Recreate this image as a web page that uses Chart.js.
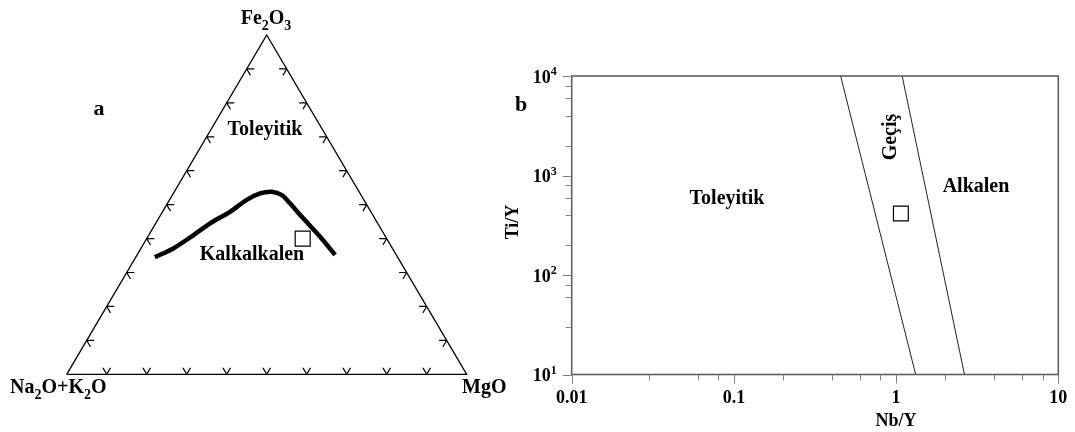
<!DOCTYPE html>
<html>
<head>
<meta charset="utf-8">
<title>AFM ve Nb/Y - Ti/Y</title>
<script src="https://cdn.jsdelivr.net/npm/chart.js@4.4.1/dist/chart.umd.min.js"></script>
<style>
    body { margin: 0; background: #fff; }
    #wrap { position: relative; width: 1075px; height: 432px; overflow: hidden; }
    #chart-a { position: absolute; left: 0; top: 0; }
    #chart-b { position: absolute; left: 495px; top: 0; }
</style>
</head>
<body>
<div id="wrap">
    <canvas id="chart-a" width="520" height="432"></canvas>
    <canvas id="chart-b" width="580" height="432"></canvas>
</div>
<script>
// ---- data: panel a (AFM, %) ----
var curveFe2O3 = [34.5, 37.1, 40.6, 44.5, 47.9, 51.4, 53.3, 53.8, 52.8, 50.4, 46.4, 40.6, 35.2];
var curveAlkali = [60.7, 54.8, 48.5, 41.9, 35.2, 29.3, 25.0, 21.8, 19.8, 19.0, 18.0, 16.4, 15.3];
var curveMgO = [4.8, 8.1, 10.9, 13.6, 16.9, 19.3, 21.7, 24.4, 27.4, 30.6, 35.6, 43.0, 49.5];
var sampleAFM = [40, 21, 39]; // Fe2O3, Na2O+K2O, MgO
var triangleFe2O3 = [0, 0, 100, 0];
var triangleAlkali = [100, 0, 0, 100];
var triangleMgO = [0, 100, 0, 0];
var ternaryTicks = [10, 20, 30, 40, 50, 60, 70, 80, 90];

// ---- data: panel b (Nb/Y vs Ti/Y) ----
var boundary1NbY = [0.455, 1.32];
var boundary1TiY = [10000, 10];
var boundary2NbY = [1.09, 2.64];
var boundary2TiY = [10000, 10];
var sampleNbY = [1.07];
var sampleTiY = [415];
var nbyTicks = [0.01, 0.1, 1, 10];
var nbyTickLabels = ['0.01', '0.1', '1', '10'];
var tiyTicks = [10, 100, 1000, 10000];
var tiyTickExp = ['1', '2', '3', '4'];

var SERIF = '"Liberation Serif", "Times New Roman", serif';

function ternToXY(fe, alk, mg) {
    var s = fe + alk + mg;
    return { x: (mg + fe / 2) / s, y: fe / s };
}

function ternSeries(feArr, alkArr, mgArr) {
    var pts = [];
    for (var i = 0; i < feArr.length; i++)
        pts.push(ternToXY(feArr[i], alkArr[i], mgArr[i]));
    return pts;
}

// draws text made of parts: [text, 'n'|'sub'|'sup']
function drawRich(ctx, parts, x, y, size, align) {
    var small = Math.round(size * 0.68);
    var total = 0;
    var i;
    for (i = 0; i < parts.length; i++) {
        ctx.font = 'bold ' + (parts[i][1] == 'n' ? size : small) + 'px ' + SERIF;
        total += ctx.measureText(parts[i][0]).width;
    }
    var cx = x;
    if (align == 'center') cx = x - total / 2;
    if (align == 'right') cx = x - total;
    ctx.textAlign = 'left';
    ctx.textBaseline = 'alphabetic';
    var base = y + size * 0.33;
    for (i = 0; i < parts.length; i++) {
        var kind = parts[i][1];
        ctx.font = 'bold ' + (kind == 'n' ? size : small) + 'px ' + SERIF;
        var dy = 0;
        if (kind == 'sub') dy = size * 0.3;
        if (kind == 'sup') dy = -size * 0.42;
        ctx.fillText(parts[i][0], cx, base + dy);
        cx += ctx.measureText(parts[i][0]).width;
    }
}

function drawText(ctx, text, x, y, size, rot) {
    ctx.save();
    ctx.translate(x, y);
    if (rot) ctx.rotate(rot);
    ctx.font = 'bold ' + size + 'px ' + SERIF;
    ctx.fillStyle = '#000';
    ctx.textAlign = 'center';
    ctx.textBaseline = 'middle';
    ctx.fillText(text, 0, 0);
    ctx.restore();
}

// ---- panel a ----
var afmDecor = {
    id: 'afmDecor',
    afterDatasetsDraw: function (chart) {
        var ctx = chart.ctx;
        var sx = chart.scales.x, sy = chart.scales.y;
        var d = 1.9;
        function px(fe, alk, mg) {
            var p = ternToXY(fe, alk, mg);
            return [sx.getPixelForValue(p.x), sy.getPixelForValue(p.y)];
        }
        function seg(a, b) {
            ctx.moveTo(a[0], a[1]);
            ctx.lineTo(b[0], b[1]);
        }
        ctx.save();
        ctx.strokeStyle = '#000';
        ctx.lineWidth = 1.2;
        ctx.beginPath();
        for (var i = 0; i < ternaryTicks.length; i++) {
            var t = ternaryTicks[i];
            // left edge (MgO = 0)
            seg(px(t, 100 - t, 0), px(t, 100 - t - d, d));
            seg(px(t, 100 - t, 0), px(t - d, 100 - t, d));
            // bottom edge (Fe2O3 = 0)
            seg(px(0, 100 - t, t), px(d, 100 - t - d, t));
            seg(px(0, 100 - t, t), px(d, 100 - t, t - d));
            // right edge (alkali = 0)
            seg(px(t, 0, 100 - t), px(t, d, 100 - t - d));
            seg(px(t, 0, 100 - t), px(t - d, d, 100 - t));
        }
        ctx.stroke();
        ctx.restore();

        ctx.save();
        ctx.fillStyle = '#000';
        drawRich(ctx, [['Fe', 'n'], ['2', 'sub'], ['O', 'n'], ['3', 'sub']], 266, 17, 20, 'center');
        drawRich(ctx, [['Na', 'n'], ['2', 'sub'], ['O+K', 'n'], ['2', 'sub'], ['O', 'n']], 10, 386, 20, 'left');
        drawRich(ctx, [['MgO', 'n']], 462, 386, 20, 'left');
        drawText(ctx, 'a', 99, 109, 22);
        drawText(ctx, 'Toleyitik', 265, 130, 20);
        drawText(ctx, 'Kalkalkalen', 252, 255, 20);
        ctx.restore();
    }
};

function BuildAFMChart() {
    var ctx = document.getElementById('chart-a');
    return new Chart(ctx, {
        type: 'scatter',
        data: {
            datasets: [{
                data: ternSeries(triangleFe2O3, triangleAlkali, triangleMgO),
                showLine: true,
                borderColor: '#000',
                borderWidth: 1.3,
                pointRadius: 0,
                clip: false
            }, {
                data: ternSeries(curveFe2O3, curveAlkali, curveMgO),
                showLine: true,
                borderColor: '#000',
                borderWidth: 4.5,
                tension: 0.3,
                pointRadius: 0,
                clip: false
            }, {
                data: [ternToXY(sampleAFM[0], sampleAFM[1], sampleAFM[2])],
                pointStyle: 'rect',
                pointRadius: 10.6,
                backgroundColor: '#fff',
                borderColor: '#000',
                borderWidth: 1.2,
                clip: false
            }]
        },
        options: {
            responsive: false,
            animation: false,
            layout: { padding: { left: 66.7, right: 53.3, top: 35, bottom: 57.7 } },
            scales: {
                x: { type: 'linear', min: 0, max: 1, display: false },
                y: { type: 'linear', min: 0, max: 1, display: false }
            },
            plugins: { legend: { display: false }, tooltip: { enabled: false } }
        },
        plugins: [afmDecor]
    });
}

// ---- panel b ----
var logDecor = {
    id: 'logDecor',
    afterDraw: function (chart) {
        var ctx = chart.ctx;
        var area = chart.chartArea;
        var sx = chart.scales.x, sy = chart.scales.y;
        ctx.save();
        ctx.strokeStyle = '#5e5e5e';
        ctx.lineWidth = 1.6;
        ctx.strokeRect(area.left, area.top, area.right - area.left, area.bottom - area.top);

        ctx.lineWidth = 1;
        ctx.strokeStyle = '#808080';
        ctx.beginPath();
        sx.ticks.forEach(function (tk) {
            var lg = Math.log10(tk.value);
            var major = Math.abs(lg - Math.round(lg)) < 1e-6;
            var x = Math.round(sx.getPixelForValue(tk.value)) + 0.5;
            ctx.moveTo(x, area.bottom);
            ctx.lineTo(x, area.bottom + (major ? 9 : 6));
        });
        sy.ticks.forEach(function (tk) {
            var lg = Math.log10(tk.value);
            var major = Math.abs(lg - Math.round(lg)) < 1e-6;
            var y = Math.round(sy.getPixelForValue(tk.value)) + 0.5;
            ctx.moveTo(area.left, y);
            ctx.lineTo(area.left - (major ? 9 : 6), y);
        });
        ctx.stroke();

        ctx.fillStyle = '#000';
        for (var i = 0; i < nbyTicks.length; i++)
            drawText(ctx, nbyTickLabels[i], sx.getPixelForValue(nbyTicks[i]), 398, 18);
        for (var j = 0; j < tiyTicks.length; j++)
            drawRich(ctx, [['10', 'n'], [tiyTickExp[j], 'sup']], area.left - 15, sy.getPixelForValue(tiyTicks[j]) + 1, 18, 'right');

        drawText(ctx, 'Nb/Y', sx.getPixelForValue(1), 421, 18);
        drawText(ctx, 'Ti/Y', 18, 222, 18, -Math.PI / 2);
        drawText(ctx, 'b', 26, 105, 22);
        drawText(ctx, 'Toleyitik', 232, 199, 20);
        drawText(ctx, 'Alkalen', 481, 187, 20);
        drawText(ctx, 'Geçiş', 396, 137, 20, -Math.PI / 2);
        ctx.restore();
    }
};

function BuildLogChart() {
    var ctx = document.getElementById('chart-b');
    function pairs(xs, ys) {
        var out = [];
        for (var i = 0; i < xs.length; i++) out.push({ x: xs[i], y: ys[i] });
        return out;
    }
    return new Chart(ctx, {
        type: 'scatter',
        data: {
            datasets: [{
                data: pairs(boundary1NbY, boundary1TiY),
                showLine: true,
                borderColor: '#222',
                borderWidth: 1,
                pointRadius: 0
            }, {
                data: pairs(boundary2NbY, boundary2TiY),
                showLine: true,
                borderColor: '#222',
                borderWidth: 1,
                pointRadius: 0
            }, {
                data: pairs(sampleNbY, sampleTiY),
                pointStyle: 'rect',
                pointRadius: 10.5,
                backgroundColor: '#fff',
                borderColor: '#000',
                borderWidth: 1.2
            }]
        },
        options: {
            responsive: false,
            animation: false,
            layout: { padding: { left: 76.7, right: 16.7, top: 76, bottom: 57.5 } },
            scales: {
                x: { type: 'logarithmic', min: 0.01, max: 10, display: false },
                y: { type: 'logarithmic', min: 10, max: 10000, display: false }
            },
            plugins: { legend: { display: false }, tooltip: { enabled: false } }
        },
        plugins: [logDecor]
    });
}

// starting scripts
BuildAFMChart();
BuildLogChart();
</script>
</body>
</html>
